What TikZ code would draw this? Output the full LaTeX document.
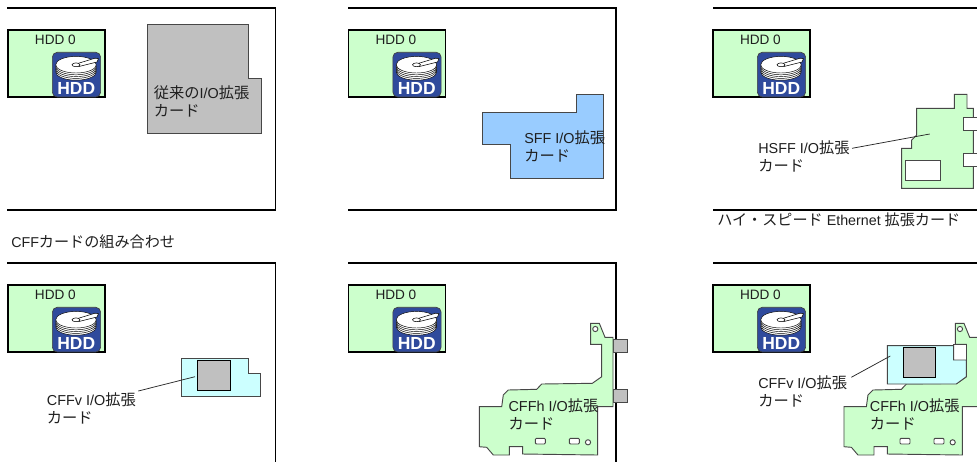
\documentclass[tikz,border=0pt]{standalone}
\usepackage{fontspec}
\setmainfont{Liberation Sans}
\newfontfamily\cjk[Scale=1.06]{Noto Sans CJK JP}
\newcommand{\J}[1]{{\cjk #1}}
\definecolor{cardgreen}{HTML}{CCFFCC}
\definecolor{cardcyan}{HTML}{CCFFFF}
\definecolor{cardblue}{HTML}{99CCFF}
\definecolor{cardgray}{HTML}{C0C0C0}
\definecolor{hddblue}{HTML}{2F4A9C}
\tikzset{
  frameline/.style={line width=1.2pt,black},
  cardline/.style={line width=0.7pt,black!72,line join=miter},
  leader/.style={line width=0.55pt,black!85},
  lbl/.style={font=\fontsize{10.8}{13.4}\selectfont,inner sep=0pt,align=left,anchor=west,text=black!88},
  caption/.style={font=\fontsize{10.7}{13}\selectfont,inner sep=0pt,anchor=west,text=black!88},
  hddpanel/.pic={
    \draw[frameline,fill=cardgreen] (7.8,30) rectangle (105,97);
    \draw[line width=0.5pt,fill=hddblue,draw=black!75,rounded corners=3.6pt] (52.4,52.3) rectangle (100.6,97);
    \foreach \yy in {71.9,70.1,68.3,66.5,64.7}
      \draw[line width=0.35pt,fill=white,draw=black] (76,\yy) ellipse [x radius=20.3,y radius=8.3];
    \draw[line width=0.4pt,fill=white,draw=black] (75,64.3) -- (95,58.2) -- (98.5,58.6) -- (97,62) -- (79,66.5) -- cycle;
    \draw[line width=0.4pt,fill=white,draw=black] (76,64.8) ellipse [x radius=4,y radius=1.9];
    \node[inner sep=0pt,text=white,font=\fontsize{13.1}{14}\selectfont\bfseries] (-icon) at (76.2,88.2) {HDD};
    \node[inner sep=0pt,font=\fontsize{10.2}{12}\selectfont,text=black!88] (-name) at (55.4,40.2) {HDD 0};
  },
  cffhcard/.pic={
    \draw[cardline,fill=cardgreen] (590.7,323.3) -- (599.3,323.3) -- (605,337.3) -- (613,337.3) -- (613,406.7) -- (597.7,406.7) -- (597.7,455) -- (522.7,454) -- (522.7,446.7) -- (509.3,446.7) -- (509.3,455) -- (493.3,455) -- (486.7,447.3) -- (479.3,446.7) -- (479.3,406.7) -- (501.7,406.7) -- (503.3,395) -- (508.3,390) -- (536.7,389.3) -- (541.7,384) -- (592.3,383.3) -- (601.7,376.7) -- (601.7,344.3) -- (590.7,344.3) -- cycle;
    \draw[cardline,fill=white] (595.3,329) circle (2.6);
    \draw[cardline,fill=white,rounded corners=0.8pt] (535.3,438.3) rectangle (545.3,444);
    \draw[cardline,fill=white,rounded corners=0.8pt] (569.3,438.3) rectangle (579.3,444);
    \draw[cardline,fill=white] (588,442.3) circle (2.6);
  }
}
\begin{document}
\begin{tikzpicture}[x=0.75pt,y=-0.75pt]
\clip (0,0) rectangle (977,462);
\fill[white] (0,0) rectangle (977,462);
% frames
\draw[frameline] (7,8) -- (275.5,8) -- (275.5,210) -- (7,210);
\draw[frameline] (348,8) -- (616,8) -- (616,210) -- (348,210);
\draw[frameline] (713,8) -- (977,8);
\draw[frameline] (713,210) -- (977,210);
\draw[frameline] (7,263) -- (275.5,263) -- (275.5,462);
\draw[frameline] (348,263) -- (616,263) -- (616,462);
\draw[frameline] (713,263) -- (977,263);
% hdd panels
\pic (h1) at (0,0) {hddpanel};
\pic (h2) at (340.5,0) {hddpanel};
\pic (h3) at (705,0) {hddpanel};
\pic (h4) at (0,255) {hddpanel};
\pic (h5) at (340.5,255) {hddpanel};
\pic (h6) at (705,255) {hddpanel};
% card 1
\draw[cardline,fill=cardgray] (147.5,24.5) -- (248.5,24.5) -- (248.5,78) -- (261,78) -- (261,133) -- (147.5,133) -- cycle;
\node[lbl] (t1) at (153.5,101) {\J{従来の}I/O\J{拡張}\\\J{カード}};
% card 2
\draw[cardline,fill=cardblue] (482.7,112.7) -- (576.7,112.7) -- (576.7,94.3) -- (603.3,94.3) -- (603.3,178.7) -- (510.7,178.7) -- (510.7,144.3) -- (482.7,144.3) -- cycle;
\node[lbl] (t2) at (524,146) {SFF I/O\J{拡張}\\\J{カード}};
% card 3
\draw[cardline,fill=cardgreen] (916.7,108.3) -- (954.3,108.3) -- (954.3,94.3) -- (967,94.3) -- (967,108.3) -- (973.3,108.3) -- (973.3,188.3) -- (901.7,188.3) -- (901.7,148.3) -- (911.7,148.3) -- (911.7,140) -- (916.7,135) -- cycle;
\draw[cardline,fill=white] (980,117.3) -- (963.5,117.3) -- (963.5,130.7) -- (980,130.7);
\draw[cardline,fill=white] (980,153.3) -- (963.5,153.3) -- (963.5,166) -- (980,166);
\draw[cardline,fill=white] (905,160.7) rectangle (940,180.7);
\node[lbl] (t3) at (758,156.3) {HSFF I/O\J{拡張}\\\J{カード}};
\coordinate (l3a) at (852,148.3);
\coordinate (l3b) at (929.7,134);
\draw[leader] (l3a) -- (l3b);
\node[caption] (c1) at (717,220) {\J{ハイ・スピード} Ethernet \J{拡張カード}};
\node[caption] (c2) at (11,242) {CFF\J{カードの組み合わせ}};
% card 4
\draw[cardline,fill=cardcyan] (181.7,358.7) -- (248,358.7) -- (248,373.3) -- (260.3,373.3) -- (260.3,396.3) -- (181.7,396.3) -- cycle;
\draw[cardline,black,fill=cardgray] (197.7,360) rectangle (230.3,390.3);
\node[lbl] (t4) at (46.7,408) {CFFv I/O\J{拡張}\\\J{カード}};
\coordinate (l4a) at (138.3,391);
\coordinate (l4b) at (195,376.7);
\draw[leader] (l4a) -- (l4b);
% card 5
\draw[cardline,fill=cardgray] (613,339) rectangle (627,352);
\draw[cardline,fill=cardgray] (613,389.7) rectangle (627,402.7);
\pic (k5) at (0,0) {cffhcard};
\node[lbl] (t5) at (508.3,414.5) {CFFh I/O\J{拡張}\\\J{カード}};
% card 6
\pic (k6) at (364.67,0) {cffhcard};
\draw[cardline,fill=white] (953.7,344.3) rectangle (966.3,360);
\draw[cardline,fill=cardcyan] (887.3,345.7) -- (953.7,345.7) -- (953.7,360) -- (966.3,360) -- (966.3,376.7) -- (956.3,384) -- (887.3,384) -- cycle;
\draw[cardline,black,fill=cardgray] (903.7,347.7) rectangle (935.7,377.7);
\node[lbl] (t6) at (869.7,414.5) {CFFh I/O\J{拡張}\\\J{カード}};
\node[lbl] (t7) at (758,391.3) {CFFv I/O\J{拡張}\\\J{カード}};
\coordinate (l6a) at (851.3,377.3);
\coordinate (l6b) at (890.3,356);
\draw[leader] (l6a) -- (l6b);
\end{tikzpicture}
\end{document}
